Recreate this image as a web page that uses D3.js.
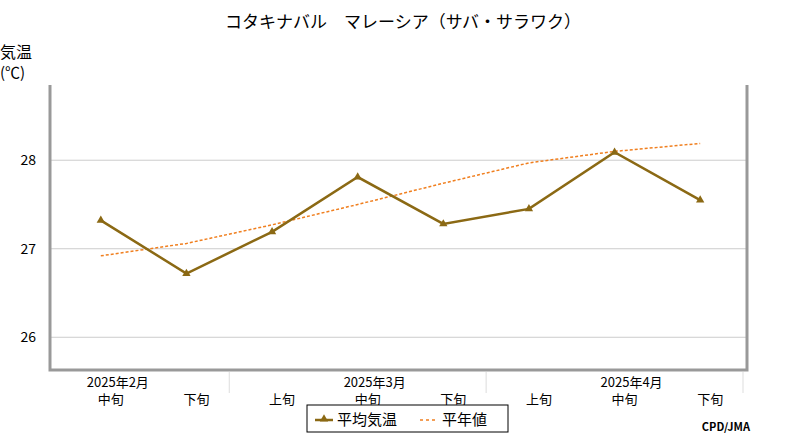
<!DOCTYPE html><html><head><meta charset="utf-8"><script src="https://cdn.jsdelivr.net/npm/d3@7"></script>
<style>body{margin:0;background:#fff}text{font-family:"Noto Sans CJK JP",sans-serif;fill:#000}</style></head><body><svg width="800" height="440"></svg>
<script>
const periods=["中旬","下旬","上旬","中旬","下旬","上旬","中旬","下旬"];
const months=["2025年2月","","","2025年3月","","","2025年4月",""];
const avgTemp=[27.32,26.72,27.19,27.81,27.28,27.45,28.09,27.55];
const normal=[26.92,27.06,27.27,27.5,27.74,27.97,28.1,28.19];
const yTicks=[26,27,28];
const svg=d3.select("svg");
const x=d3.scaleBand().domain(d3.range(8)).range([58,743]);
const cx=i=>x(i)+x.bandwidth()/2;
const y=d3.scaleLinear().domain([25.63,28.85]).range([370,85]);
const g=svg.append("g");
g.selectAll(".grid").data(yTicks).join("line").attr("x1",50).attr("x2",747).attr("y1",d=>y(d)).attr("y2",d=>y(d)).attr("stroke","#ccc");
g.selectAll(".yt").data(yTicks).join("text").attr("x",36).attr("y",d=>y(d)+5).attr("text-anchor","end").attr("font-size",14).text(d=>d);
svg.append("path").attr("d","M50,85V370H747V85").attr("fill","none").attr("stroke","#999").attr("stroke-width",3);
[2,5,8].forEach(k=>svg.append("line").attr("x1",58+k*x.bandwidth()).attr("x2",58+k*x.bandwidth()).attr("y1",372).attr("y2",393).attr("stroke","#ddd"));
svg.selectAll(".per").data(periods).join("text").attr("x",(d,i)=>cx(i)+10).attr("y",404).attr("text-anchor","middle").attr("font-size",13).text(d=>d);
svg.selectAll(".mon").data(months).join("text").attr("x",(d,i)=>cx(i)+17).attr("y",387).attr("text-anchor","middle").attr("font-size",13).text(d=>d);
const line=d3.line().x((d,i)=>cx(i)).y(d=>y(d));
svg.append("path").attr("d",line(normal)).attr("fill","none").attr("stroke","#f07f1f").attr("stroke-width",1.5).attr("stroke-dasharray","3,2");
svg.append("path").attr("d",line(avgTemp)).attr("fill","none").attr("stroke","#8b6914").attr("stroke-width",2.5);
const tri=d3.symbol().type(d3.symbolTriangle).size(30);
svg.selectAll(".m").data(avgTemp).join("path").attr("d",tri).attr("transform",(d,i)=>`translate(${cx(i)},${y(d)})`).attr("fill","#8b6914");
svg.append("text").attr("x",403).attr("y",28).attr("text-anchor","middle").attr("font-size",17).text("コタキナバル　マレーシア（サバ・サラワク）");
svg.append("text").attr("x",0).attr("y",58).attr("font-size",16).text("気温");
svg.append("text").attr("x",0).attr("y",78).attr("font-size",15).text("(℃)");
svg.append("rect").attr("x",307).attr("y",405).attr("width",201).attr("height",27).attr("fill","#fff").attr("stroke","#000");
svg.append("line").attr("x1",315).attr("x2",333).attr("y1",420).attr("y2",420).attr("stroke","#8b6914").attr("stroke-width",2.5);
svg.append("path").attr("d",tri).attr("transform","translate(324,419)").attr("fill","#8b6914");
svg.append("text").attr("x",337).attr("y",425).attr("font-size",15).text("平均気温");
svg.append("line").attr("x1",420).attr("x2",437).attr("y1",420).attr("y2",420).attr("stroke","#f07f1f").attr("stroke-width",1.5).attr("stroke-dasharray","3,3");
svg.append("text").attr("x",442).attr("y",425).attr("font-size",15).text("平年値");
svg.append("text").attr("x",750).attr("y",431).attr("text-anchor","end").attr("font-size",11).attr("font-family","DejaVu Sans Mono").attr("font-weight","bold").text("CPD/JMA");
</script></body></html>
